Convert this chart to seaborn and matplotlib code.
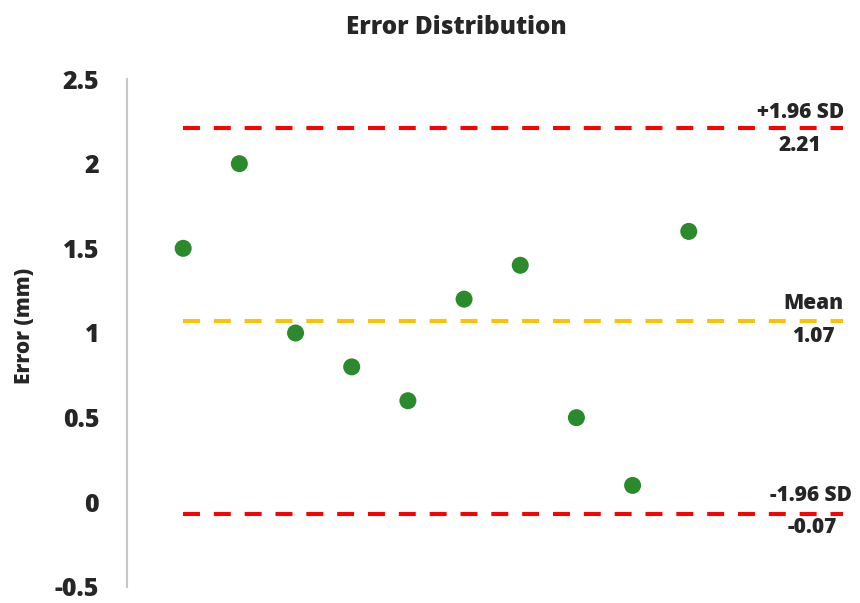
import matplotlib
matplotlib.use("Agg")
import matplotlib.pyplot as plt
import seaborn as sns
import pandas as pd

# Data
sample_idx = [1, 2, 3, 4, 5, 6, 7, 8, 9, 10]
errors = [1.5, 2.0, 1.0, 0.8, 0.6, 1.2, 1.4, 0.5, 0.1, 1.6]
upper_loa = 2.21
mean_err = 1.07
lower_loa = -0.07
line_names = ["+1.96 SD", "Mean", "-1.96 SD"]
line_values = [upper_loa, mean_err, lower_loa]
line_value_labels = ["2.21", "1.07", "-0.07"]
y_ticks = [-0.5, 0, 0.5, 1, 1.5, 2, 2.5]
y_tick_labels = ["-0.5", "0", "0.5", "1", "1.5", "2", "2.5"]

sns.set_style("white")
plt.rcParams["font.family"] = ["Open Sans", "DejaVu Sans"]
plt.rcParams["lines.scale_dashes"] = False

W = "heavy"

top_px, bot_px = 79, 587
fig = plt.figure(figsize=(8.6, 6.03), dpi=100)
ax = fig.add_axes([127 / 860, 1 - bot_px / 603, (850 - 127) / 860, (bot_px - top_px) / 603])

df = pd.DataFrame({"idx": sample_idx, "err": errors})

line_colors = ["#ff0000", "#ffc000", "#ff0000"]
x_start, x_end = 1, 12.75
for val, col in zip(line_values, line_colors):
    ax.hlines(val, x_start, x_end, colors=col, linewidth=2.9,
              linestyles=(0, (12.2, 10.0)), zorder=2)

sns.scatterplot(data=df, x="idx", y="err", ax=ax, color="#2b8a2b",
                s=150, edgecolor="none", zorder=3)

ax.set_xlim(0, 12.87)
ax.set_ylim(-0.5, 2.5)
ax.set_yticks(y_ticks)
ax.set_yticklabels(y_tick_labels, fontsize=18, fontweight=W)
ax.set_xticks([])
ax.set_xlabel("")
ax.set_ylabel("Error (mm)", fontsize=15, fontweight=W)
ax.yaxis.set_label_coords((35 - 127) / 723, (bot_px - 326) / (bot_px - top_px))
ax.tick_params(axis="y", length=0, pad=20)

for side in ["top", "right", "bottom"]:
    ax.spines[side].set_visible(False)
ax.spines["left"].set_color("#c8c8c8")
ax.spines["left"].set_linewidth(1.5)

offsets = [(-43, 16, -43, -17), (-30, 18, -30, -15), (-32, 19, -31, -13)]
for name, val, vlab, (dx1, dy1, dx2, dy2) in zip(line_names, line_values,
                                                  line_value_labels, offsets):
    ax.annotate(name, xy=(x_end, val), xytext=(dx1, dy1), textcoords="offset pixels",
                ha="center", va="center", fontsize=15, fontweight=W,
                annotation_clip=False)
    ax.annotate(vlab, xy=(x_end, val), xytext=(dx2, dy2), textcoords="offset pixels",
                ha="center", va="center", fontsize=15, fontweight=W,
                annotation_clip=False)

fig.text(456 / 860, 1 - 28 / 603, "Error Distribution", ha="center", va="center",
         fontsize=17.5, fontweight=W)

fig.savefig("out.png", dpi=100)
